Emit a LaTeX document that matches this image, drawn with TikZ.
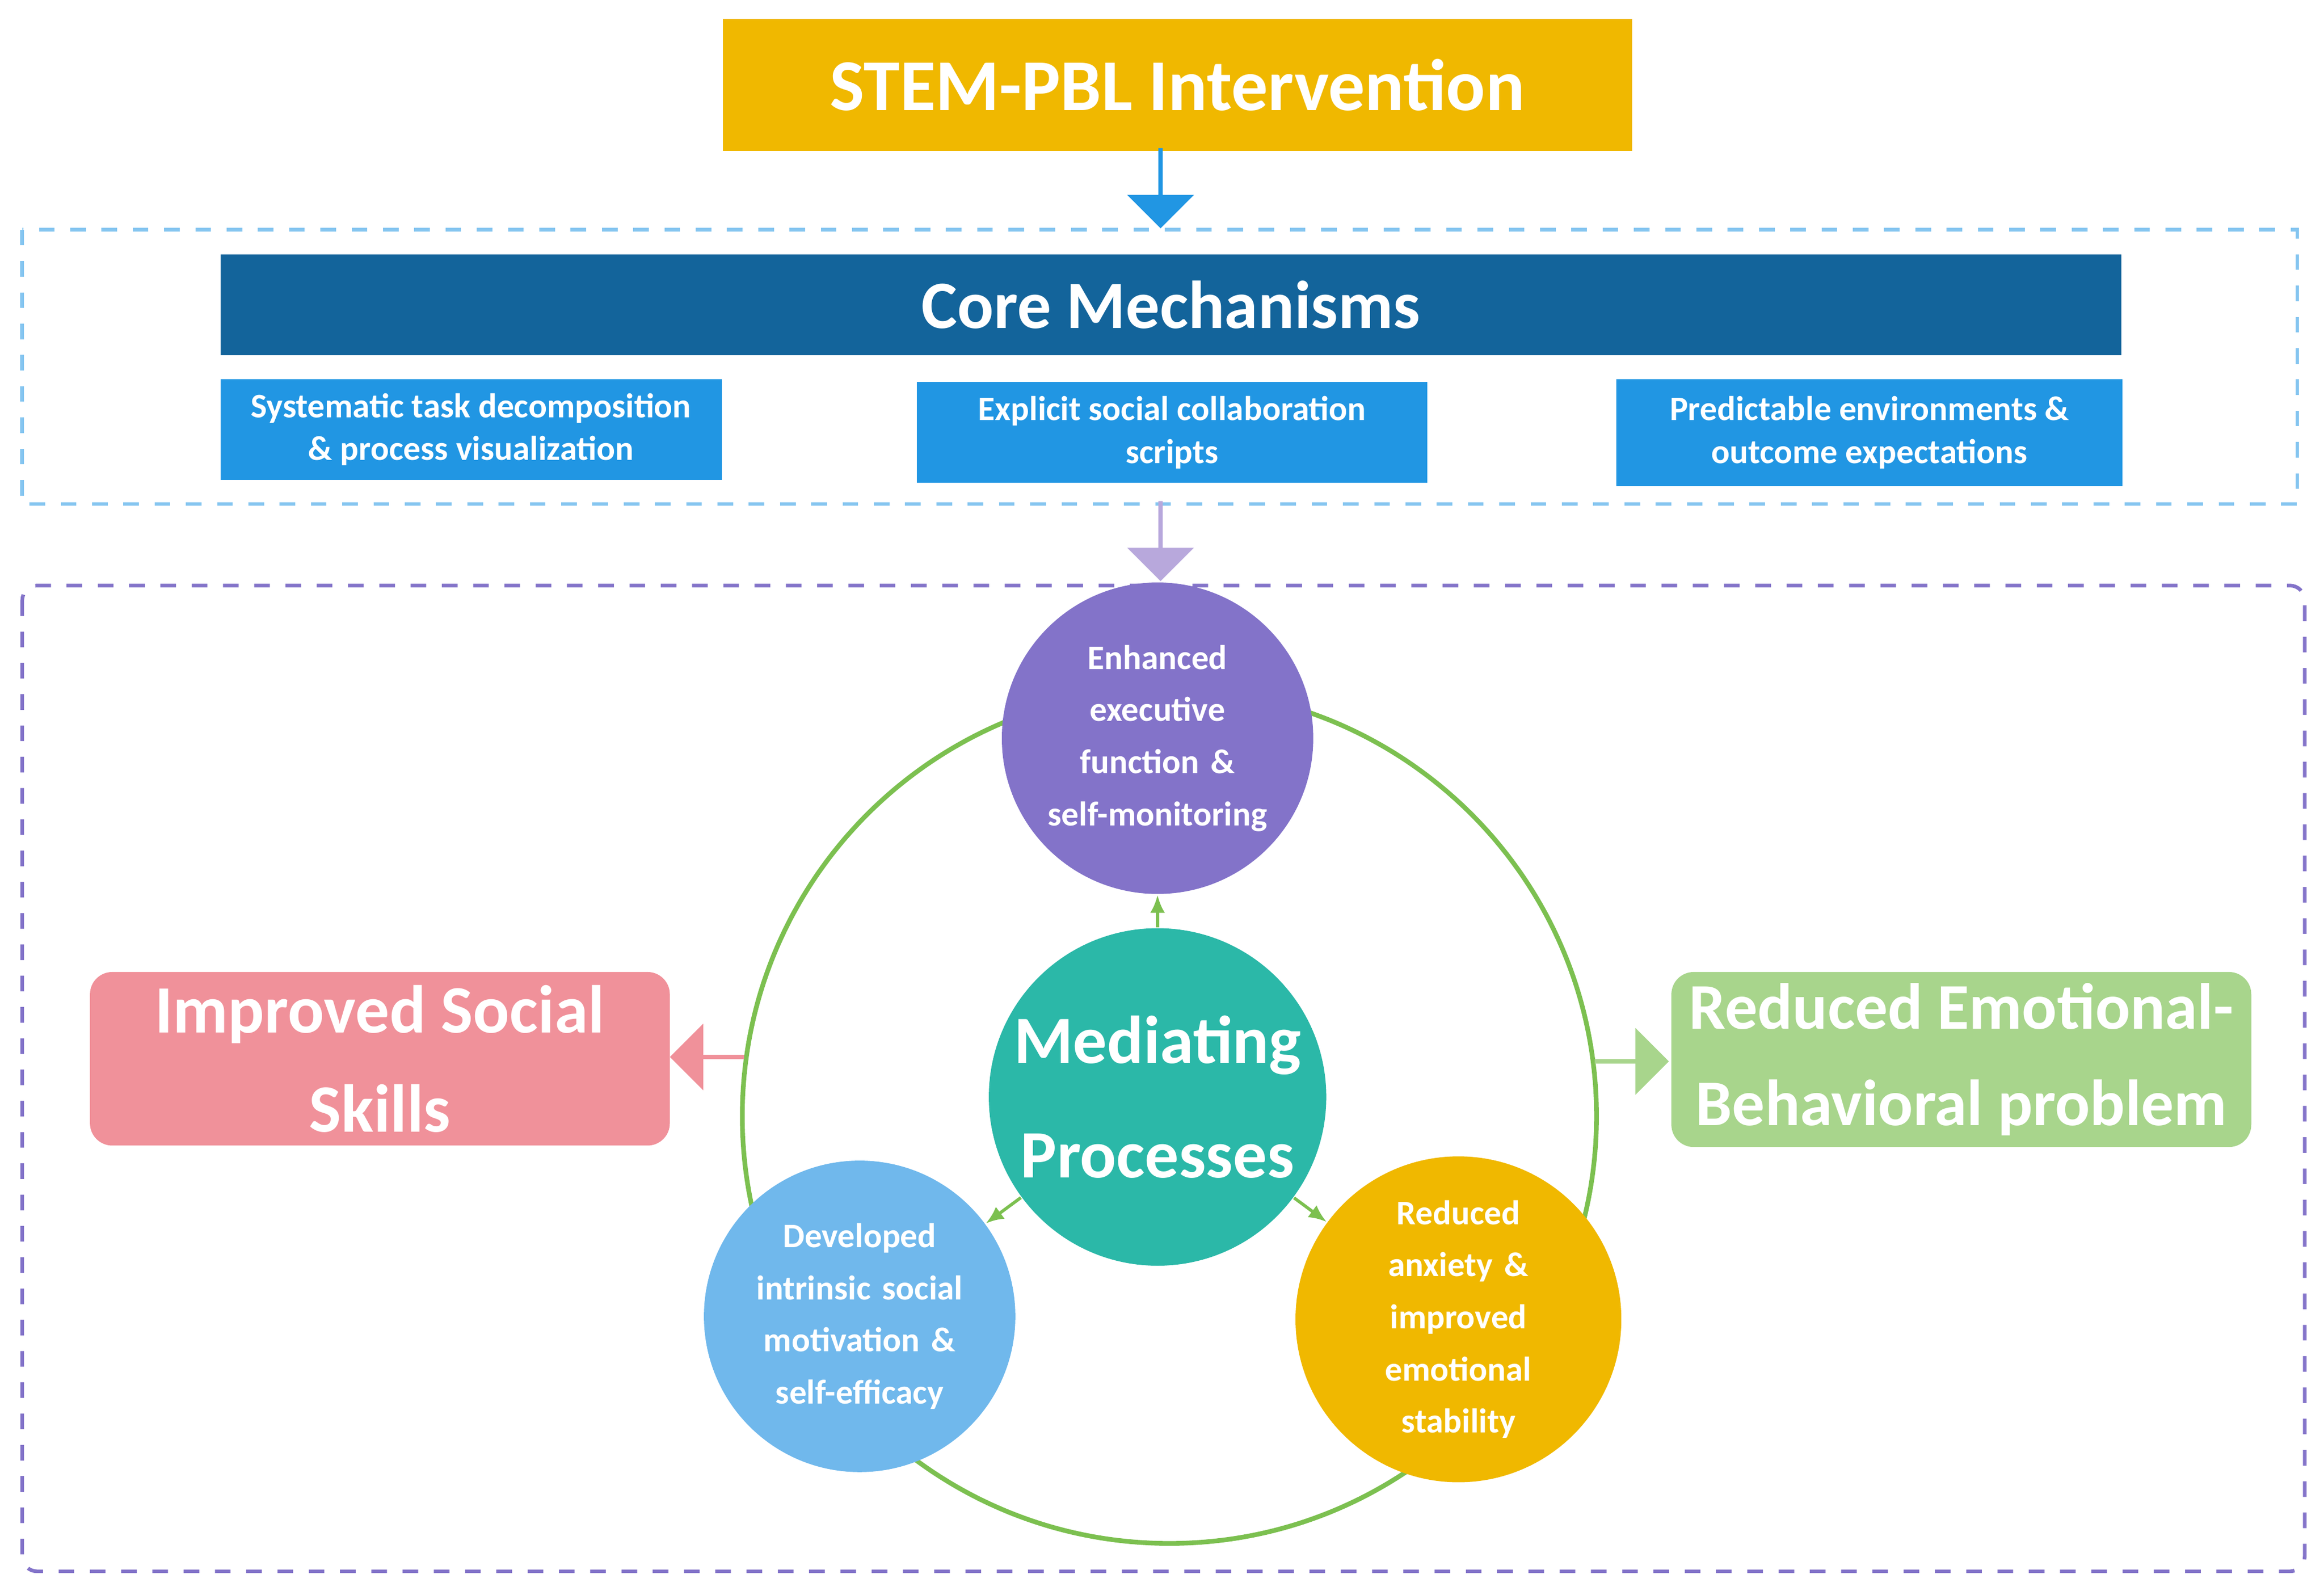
\documentclass[tikz,border=0pt]{standalone}
\usepackage{fontspec}
\setmainfont{Carlito}
\usetikzlibrary{shapes.arrows,arrows.meta}
\definecolor{gold}{HTML}{F0B800}
\definecolor{dblue}{HTML}{13649B}
\definecolor{mblue}{HTML}{2196E3}
\definecolor{purp}{HTML}{8373C9}
\definecolor{lpurp}{HTML}{B8A8DC}
\definecolor{teal}{HTML}{2BB8A8}
\definecolor{lblue}{HTML}{70B8EC}
\definecolor{pink}{HTML}{F0919A}
\definecolor{lgreen}{HTML}{A8D58C}
\definecolor{ring}{HTML}{7CC050}
\begin{document}
\begin{tikzpicture}[x=0.01cm,y=-0.01cm,
 txt/.style={text=white,font=\bfseries,align=center,inner sep=0pt},
 box/.style={txt,anchor=north west,font=\bfseries\fontsize{6.6}{8.2}\selectfont},
 circ/.style={txt,circle,minimum size=2.1cm,text width=1.5cm,font=\bfseries\fontsize{6.6}{10}\selectfont},
 fat/.style={single arrow,draw=none,single arrow head extend=0.1cm,minimum height=0.54cm,minimum width=0.45cm,inner sep=0pt,single arrow tip angle=90},
 sm/.style={-{Latex[length=0.12cm,width=0.1cm]},ring,line width=0.6pt}]
\useasboundingbox (0,0) rectangle (1568,1073);
% top
\node[txt,fill=gold,minimum width=6.13cm,minimum height=0.89cm,anchor=north west,font=\bfseries\fontsize{14}{16}\selectfont] (stem) at (487,12) {STEM-PBL Intervention};
\draw[dashed,color=mblue!55,line width=0.7pt] (15,155) rectangle (1550,340);
\node[fill=mblue,fat,shape border rotate=270,anchor=tip] (a1) at (783,155) {};
\node[txt,fill=dblue,minimum width=12.82cm,minimum height=0.68cm,anchor=north west,font=\bfseries\fontsize{13}{15}\selectfont] (core) at (148,171) {Core Mechanisms};
\node[box,fill=mblue,minimum width=3.38cm,minimum height=0.68cm] (m1) at (148,255) {Systematic task decomposition\\\& process visualization};
\node[box,fill=mblue,minimum width=3.44cm,minimum height=0.68cm] (m2) at (618,257) {Explicit social collaboration\\scripts};
\node[box,fill=mblue,minimum width=3.41cm,minimum height=0.72cm] (m3) at (1090,255) {Predictable environments \&\\outcome expectations};
% lower
\draw[dashed,color=purp,line width=0.7pt,rounded corners=0.1cm] (15,395) rectangle (1555,1060);
\node[fill=lpurp,fat,shape border rotate=270,anchor=tip] (a2) at (783,393) {};
\draw[ring,line width=0.9pt] (789,753) circle (2.88cm);
\node[circ,fill=purp] (c1) at (781,498) {Enhanced executive function \& self-monitoring};
\node[circ,fill=teal,font=\bfseries\fontsize{13}{22}\selectfont,text width=2cm] (c0) at (781,740) {Mediating\\Processes};
\node[circ,fill=lblue] (c2) at (580,888) {Developed intrinsic social motivation \& self-efficacy};
\node[circ,fill=gold] (c3) at (984,890) {Reduced anxiety \& improved emotional stability};
\draw[sm] (c0) -- (c1);
\draw[sm] (c0) -- (c2);
\draw[sm] (c0) -- (c3);
\node[txt,fill=pink,rounded corners=0.15cm,minimum width=3.91cm,minimum height=1.17cm,anchor=north west,font=\bfseries\fontsize{13}{19}\selectfont] (o1) at (60,655) {Improved Social\\Skills};
\node[txt,fill=lgreen,rounded corners=0.15cm,minimum width=3.91cm,minimum height=1.18cm,anchor=north west,font=\bfseries\fontsize{12.5}{18.5}\selectfont] (o2) at (1127,655) {Reduced Emotional-\\Behavioral problem};
\node[fill=pink,fat,shape border rotate=180,anchor=tip,minimum height=0.5cm] (a3) at (451,713) {};
\node[fill=lgreen,fat,anchor=tip,minimum height=0.5cm] (a4) at (1127,716) {};
\end{tikzpicture}
\end{document}
